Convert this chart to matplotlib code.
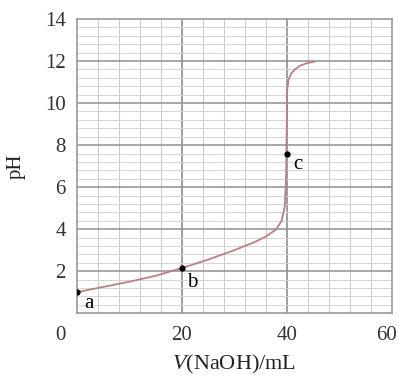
import numpy as np
import matplotlib.pyplot as plt
import matplotlib.transforms as mtransforms

plt.rcParams['font.family'] = ['Liberation Serif', 'DejaVu Serif']
plt.rcParams['mathtext.fontset'] = 'custom'
plt.rcParams['mathtext.it'] = 'Liberation Serif:italic'
plt.rcParams['mathtext.rm'] = 'Liberation Serif'

# titration curve
volume = [0, 5, 10, 15, 20, 25, 30, 34, 36, 38, 39, 39.6, 39.85, 39.95, 40.05,
          40.3, 40.8, 41.5, 42.5, 43.8, 45.2]
ph = [1.0, 1.25, 1.5, 1.78, 2.15, 2.55, 3.0, 3.4, 3.65, 4.0, 4.4, 5.1, 6.5, 8.5,
      10.6, 11.1, 11.4, 11.6, 11.78, 11.9, 11.97]

point_names = ['a', 'b', 'c']
point_v = [0, 20, 40]
point_ph = [1.0, 2.15, 7.6]

fig = plt.figure(figsize=(3.99, 3.81), dpi=100)
ax = fig.add_axes([0.193, 0.178, 0.789, 0.772])

ax.set_xlim(0, 60)
ax.set_ylim(0, 14)

# graph paper grid
for v in np.arange(4, 60, 4):
    major = v % 20 == 0
    ax.axvline(v, color='#8c8c8c' if major else '#cccccc', lw=1.2 if major else 0.8, zorder=0)
for p in np.arange(0.4, 14, 0.4):
    major = abs(p / 2 - round(p / 2)) < 1e-6
    ax.axhline(p, color='#909090' if major else '#d4d4d4', lw=1.1 if major else 0.7, zorder=0)
for s in ax.spines.values():
    s.set_color('#9a9a9a')
    s.set_linewidth(1.2)

ax.plot(volume, ph, color='#b98086', lw=1.3, zorder=2)
ax.plot(point_v, point_ph, 'o', color='black', ms=3.5, zorder=3)

ax.text(1.3, 0.45, 'a', fontsize=15, ha='left', va='center')
ax.text(21.0, 1.45, 'b', fontsize=15, ha='left', va='center')
ax.text(41.3, 7.1, 'c', fontsize=15, ha='left', va='center')

ax.set_xticks([0, 20, 40, 60])
ax.set_yticks([2, 4, 6, 8, 10, 12, 14])
ax.tick_params(length=0, labelsize=15, colors='#333333', pad=9)
ax.tick_params(axis='y', pad=8)
# origin label sits left of the corner, last label pulled inside the edge
xl = ax.get_xticklabels()
xl[0].set_transform(xl[0].get_transform() + mtransforms.ScaledTranslation(-0.17, 0, fig.dpi_scale_trans))
xl[-1].set_transform(xl[-1].get_transform() + mtransforms.ScaledTranslation(-0.05, 0, fig.dpi_scale_trans))

ax.set_xlabel('$\\mathit{V}$(NaOH)/mL', fontsize=16, color='#222222', labelpad=6)
ax.set_ylabel('pH', fontsize=15, color='#222222', labelpad=14)

fig.savefig('out.png', dpi=100)
